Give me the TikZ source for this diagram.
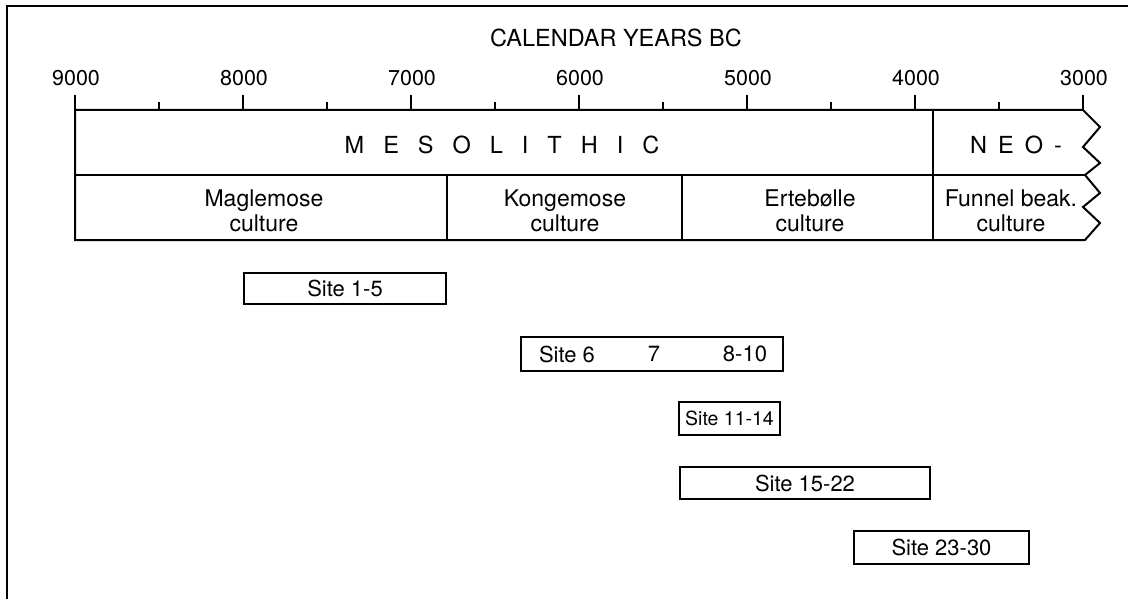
\documentclass[tikz,border=0pt]{standalone}
\usepackage{fontspec}
\setmainfont{TeX Gyre Heros}
\begin{document}
\begin{tikzpicture}[x=1pt,y=-1pt,line width=2pt,
  yearlab/.style={inner sep=0,font=\fontsize{21.5}{25}\selectfont},
  titlelab/.style={inner sep=0,font=\fontsize{23.5}{27}\selectfont},
  periodlab/.style={inner sep=0,font=\fontsize{23.5}{27}\selectfont},
  culturelab/.style={inner sep=0,align=center,font=\fontsize{23}{25}\selectfont},
  sitebox/.style={draw,line width=2pt,inner sep=0,minimum height=31pt,font=\fontsize{22}{24}\selectfont},
  sitelab/.style={inner sep=0,font=\fontsize{22}{24}\selectfont}]
\useasboundingbox (0,0) rectangle (1128,599);
% frame (left and top)
\draw[line width=2.2pt] (7,599) -- (7,6) -- (1128,6);
% title
\node[titlelab] (title) at (616,37.5) {CALENDAR YEARS BC};
% axis ticks and labels
\foreach \k/\yr in {0/9000,1/8000,2/7000,3/6000,4/5000,5/4000,6/3000}{
  \draw (75+\k*168,95) -- (75+\k*168,110);
  \node[yearlab] (y\yr) at (76+\k*168,78.5) {\yr};
}
\foreach \k in {0,...,5}{
  \draw (159+\k*168,102) -- (159+\k*168,110);
}
% period band with zigzag right edge
\draw[line join=miter] (75,240) -- (75,110) -- (1083,110) -- (1100,127) -- (1083,147) -- (1100,163) -- (1085,175)
  -- (1100,193) -- (1083,207) -- (1100,223) -- (1085,240) -- cycle;
\draw (75,175) -- (1085,175);
\draw (933,110) -- (933,240);
\draw (447,175) -- (447,240);
\draw (682,175) -- (682,240);
% period labels
\node[periodlab] (meso) at (502,145) {M\hspace{19pt}E\hspace{19pt}S\hspace{19pt}O\hspace{19pt}L\hspace{19pt}I\hspace{19pt}T\hspace{19pt}H\hspace{19pt}I\hspace{19pt}C};
\node[periodlab] (neo) at (1016,145) {N\hspace{11pt}E\hspace{11pt}O\hspace{11pt}-};
% culture labels
\node[culturelab] (magle) at (264,211) {Maglemose\\culture};
\node[culturelab] (konge) at (565,211) {Kongemose\\culture};
\node[culturelab] (ertebolle) at (810,211) {Ertebølle\\culture};
\node[culturelab] (funnel) at (1011,211) {Funnel beak.\\culture};
% site boxes
\node[sitebox,minimum width=202pt] (s1) at (345,288.5) {Site 1-5};
\node[sitebox,minimum width=262pt,minimum height=34pt] (s6) at (652,354) {};
\node[sitelab] (s6a) at (567,354) {Site 6};
\node[sitelab] (s6b) at (654,354) {7};
\node[sitelab] (s6c) at (745,354) {8-10};
\node[sitebox,minimum width=101pt,minimum height=33pt,font=\fontsize{19.5}{22}\selectfont] (s11) at (729.5,418.5) {Site 11-14};
\node[sitebox,minimum width=250pt,minimum height=32pt] (s15) at (805,483) {Site 15-22};
\node[sitebox,minimum width=175pt,minimum height=33pt] (s23) at (941.5,547.5) {Site 23-30};
\end{tikzpicture}
\end{document}
